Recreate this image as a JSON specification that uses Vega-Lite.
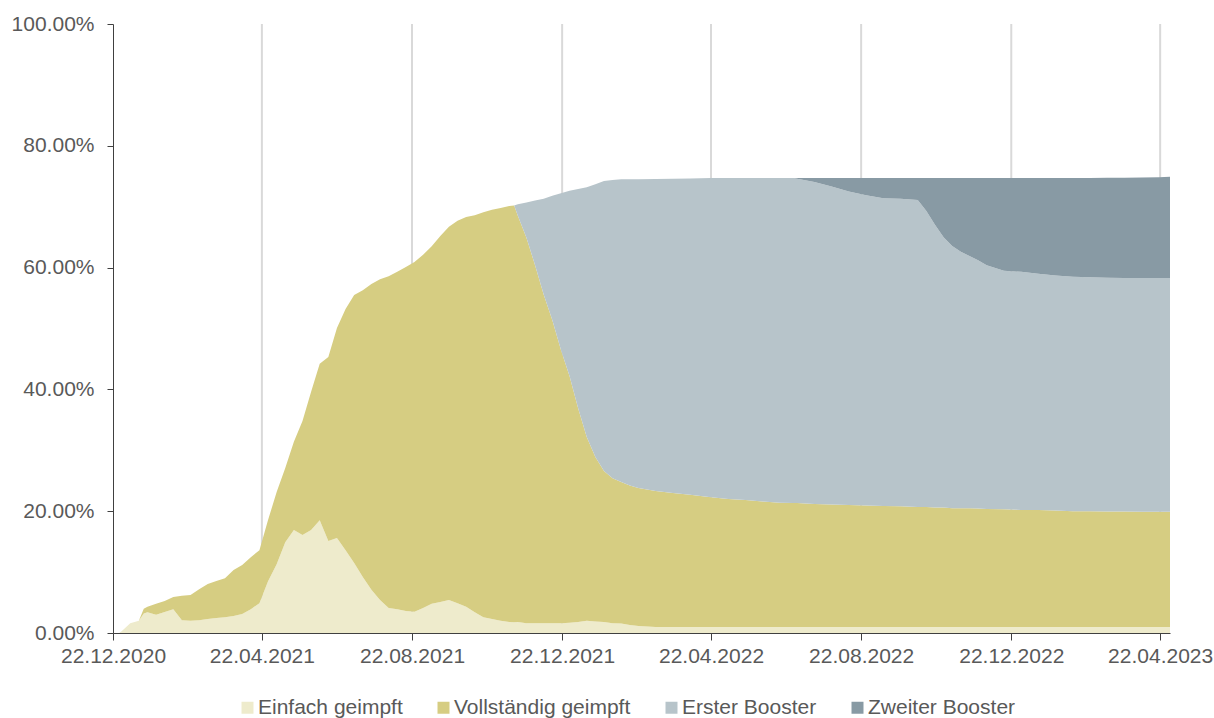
{
  "$schema": "https://vega.github.io/schema/vega-lite/v6.json",
  "width": 1057,
  "height": 609,
  "autosize": "none",
  "padding": {"left": 113, "top": 24, "right": 44, "bottom": 85},
  "background": "white",
  "config": {"font": "Liberation Sans", "view": {"stroke": null}},
  "layer": [
    {
      "data": {
        "values": [
          {"d": "2021-04-22"}, {"d": "2021-08-22"}, {"d": "2021-12-22"},
          {"d": "2022-04-22"}, {"d": "2022-08-22"}, {"d": "2022-12-22"}, {"d": "2023-04-22"}
        ],
        "format": {"parse": {"d": "date:'%Y-%m-%d'"}}
      },
      "mark": {"type": "rule", "color": "#d9d9d9", "strokeWidth": 2},
      "encoding": {"x": {"field": "d", "type": "temporal", "title": null}}
    },
    {
      "data": {
        "values": [
          {"d": "2020-12-27", "s1": 0, "s2": 0, "s3": 0, "s4": 0},
          {"d": "2020-12-29", "s1": 0.3, "s2": 0, "s3": 0, "s4": 0},
          {"d": "2021-01-05", "s1": 1.6, "s2": 0, "s3": 0, "s4": 0},
          {"d": "2021-01-12", "s1": 2.0, "s2": 0, "s3": 0, "s4": 0},
          {"d": "2021-01-16", "s1": 3.2, "s2": 0.8, "s3": 0, "s4": 0},
          {"d": "2021-01-19", "s1": 3.4, "s2": 0.9, "s3": 0, "s4": 0},
          {"d": "2021-01-26", "s1": 3.0, "s2": 1.8, "s3": 0, "s4": 0},
          {"d": "2021-02-02", "s1": 3.45, "s2": 1.8, "s3": 0, "s4": 0},
          {"d": "2021-02-09", "s1": 3.9, "s2": 2.0, "s3": 0, "s4": 0},
          {"d": "2021-02-16", "s1": 2.1, "s2": 4.0, "s3": 0, "s4": 0},
          {"d": "2021-02-23", "s1": 2.0, "s2": 4.25, "s3": 0, "s4": 0},
          {"d": "2021-03-02", "s1": 2.1, "s2": 5.1, "s3": 0, "s4": 0},
          {"d": "2021-03-09", "s1": 2.3, "s2": 5.75, "s3": 0, "s4": 0},
          {"d": "2021-03-16", "s1": 2.45, "s2": 6.1, "s3": 0, "s4": 0},
          {"d": "2021-03-23", "s1": 2.6, "s2": 6.4, "s3": 0, "s4": 0},
          {"d": "2021-03-30", "s1": 2.8, "s2": 7.55, "s3": 0, "s4": 0},
          {"d": "2021-04-06", "s1": 3.1, "s2": 8.05, "s3": 0, "s4": 0},
          {"d": "2021-04-13", "s1": 3.9, "s2": 8.55, "s3": 0, "s4": 0},
          {"d": "2021-04-20", "s1": 4.9, "s2": 8.7, "s3": 0, "s4": 0},
          {"d": "2021-04-27", "s1": 8.5, "s2": 10.05, "s3": 0, "s4": 0},
          {"d": "2021-05-04", "s1": 11.3, "s2": 11.85, "s3": 0, "s4": 0},
          {"d": "2021-05-11", "s1": 14.9, "s2": 12.2, "s3": 0, "s4": 0},
          {"d": "2021-05-18", "s1": 16.9, "s2": 14.5, "s3": 0, "s4": 0},
          {"d": "2021-05-25", "s1": 16.1, "s2": 18.7, "s3": 0, "s4": 0},
          {"d": "2021-06-01", "s1": 16.9, "s2": 22.7, "s3": 0, "s4": 0},
          {"d": "2021-06-08", "s1": 18.5, "s2": 25.7, "s3": 0, "s4": 0},
          {"d": "2021-06-15", "s1": 15.1, "s2": 30.2, "s3": 0, "s4": 0},
          {"d": "2021-06-22", "s1": 15.6, "s2": 34.5, "s3": 0, "s4": 0},
          {"d": "2021-06-29", "s1": 13.6, "s2": 39.6, "s3": 0, "s4": 0},
          {"d": "2021-07-06", "s1": 11.5, "s2": 44.0, "s3": 0, "s4": 0},
          {"d": "2021-07-13", "s1": 9.2, "s2": 47.1, "s3": 0, "s4": 0},
          {"d": "2021-07-20", "s1": 7.1, "s2": 50.2, "s3": 0, "s4": 0},
          {"d": "2021-07-27", "s1": 5.4, "s2": 52.7, "s3": 0, "s4": 0},
          {"d": "2021-08-03", "s1": 4.1, "s2": 54.5, "s3": 0, "s4": 0},
          {"d": "2021-08-10", "s1": 3.9, "s2": 55.4, "s3": 0, "s4": 0},
          {"d": "2021-08-17", "s1": 3.6, "s2": 56.5, "s3": 0, "s4": 0},
          {"d": "2021-08-24", "s1": 3.5, "s2": 57.4, "s3": 0, "s4": 0},
          {"d": "2021-08-31", "s1": 4.1, "s2": 58.0, "s3": 0, "s4": 0},
          {"d": "2021-09-07", "s1": 4.8, "s2": 58.7, "s3": 0, "s4": 0},
          {"d": "2021-09-14", "s1": 5.1, "s2": 60.1, "s3": 0, "s4": 0},
          {"d": "2021-09-21", "s1": 5.4, "s2": 61.3, "s3": 0, "s4": 0},
          {"d": "2021-09-28", "s1": 4.9, "s2": 62.8, "s3": 0, "s4": 0},
          {"d": "2021-10-05", "s1": 4.3, "s2": 64.0, "s3": 0, "s4": 0},
          {"d": "2021-10-12", "s1": 3.4, "s2": 65.2, "s3": 0, "s4": 0},
          {"d": "2021-10-19", "s1": 2.6, "s2": 66.5, "s3": 0, "s4": 0},
          {"d": "2021-10-26", "s1": 2.3, "s2": 67.2, "s3": 0, "s4": 0},
          {"d": "2021-11-02", "s1": 2.0, "s2": 67.8, "s3": 0, "s4": 0},
          {"d": "2021-11-09", "s1": 1.8, "s2": 68.3, "s3": 0, "s4": 0},
          {"d": "2021-11-13", "s1": 1.75, "s2": 68.45, "s3": 0, "s4": 0},
          {"d": "2021-11-16", "s1": 1.8, "s2": 66.7, "s3": 1.9, "s4": 0},
          {"d": "2021-11-23", "s1": 1.6, "s2": 63.3, "s3": 5.8, "s4": 0},
          {"d": "2021-11-30", "s1": 1.6, "s2": 58.8, "s3": 10.6, "s4": 0},
          {"d": "2021-12-07", "s1": 1.6, "s2": 54.0, "s3": 15.7, "s4": 0},
          {"d": "2021-12-14", "s1": 1.6, "s2": 49.8, "s3": 20.4, "s4": 0},
          {"d": "2021-12-21", "s1": 1.6, "s2": 44.9, "s3": 25.7, "s4": 0},
          {"d": "2021-12-28", "s1": 1.7, "s2": 40.5, "s3": 30.4, "s4": 0},
          {"d": "2022-01-04", "s1": 1.8, "s2": 35.1, "s3": 36.0, "s4": 0},
          {"d": "2022-01-11", "s1": 2.0, "s2": 30.2, "s3": 41.0, "s4": 0},
          {"d": "2022-01-18", "s1": 1.9, "s2": 27.0, "s3": 44.8, "s4": 0},
          {"d": "2022-01-25", "s1": 1.8, "s2": 24.8, "s3": 47.6, "s4": 0},
          {"d": "2022-02-01", "s1": 1.6, "s2": 23.8, "s3": 49.0, "s4": 0},
          {"d": "2022-02-08", "s1": 1.55, "s2": 23.25, "s3": 49.7, "s4": 0},
          {"d": "2022-02-15", "s1": 1.3, "s2": 22.9, "s3": 50.3, "s4": 0},
          {"d": "2022-02-22", "s1": 1.15, "s2": 22.65, "s3": 50.7, "s4": 0},
          {"d": "2022-03-08", "s1": 1.0, "s2": 22.3, "s3": 51.25, "s4": 0},
          {"d": "2022-03-22", "s1": 1.0, "s2": 22.0, "s3": 51.6, "s4": 0},
          {"d": "2022-04-05", "s1": 1.0, "s2": 21.7, "s3": 51.95, "s4": 0},
          {"d": "2022-04-22", "s1": 1.0, "s2": 21.3, "s3": 52.4, "s4": 0},
          {"d": "2022-05-06", "s1": 1.0, "s2": 21.0, "s3": 52.7, "s4": 0},
          {"d": "2022-05-20", "s1": 1.0, "s2": 20.85, "s3": 52.85, "s4": 0},
          {"d": "2022-06-03", "s1": 1.0, "s2": 20.6, "s3": 53.1, "s4": 0},
          {"d": "2022-06-17", "s1": 1.0, "s2": 20.4, "s3": 53.3, "s4": 0},
          {"d": "2022-06-28", "s1": 1.0, "s2": 20.35, "s3": 53.35, "s4": 0},
          {"d": "2022-07-01", "s1": 1.0, "s2": 20.35, "s3": 53.25, "s4": 0.1},
          {"d": "2022-07-15", "s1": 1.0, "s2": 20.2, "s3": 52.85, "s4": 0.67},
          {"d": "2022-07-29", "s1": 1.0, "s2": 20.1, "s3": 52.2, "s4": 1.4},
          {"d": "2022-08-12", "s1": 1.0, "s2": 20.0, "s3": 51.5, "s4": 2.2},
          {"d": "2022-08-26", "s1": 1.0, "s2": 19.95, "s3": 50.95, "s4": 2.8},
          {"d": "2022-09-09", "s1": 1.0, "s2": 19.85, "s3": 50.55, "s4": 3.3},
          {"d": "2022-09-23", "s1": 1.0, "s2": 19.8, "s3": 50.5, "s4": 3.4},
          {"d": "2022-10-07", "s1": 1.0, "s2": 19.7, "s3": 50.4, "s4": 3.6},
          {"d": "2022-10-14", "s1": 1.0, "s2": 19.7, "s3": 48.6, "s4": 5.4},
          {"d": "2022-10-21", "s1": 1.0, "s2": 19.6, "s3": 46.45, "s4": 7.65},
          {"d": "2022-10-28", "s1": 1.0, "s2": 19.6, "s3": 44.4, "s4": 9.7},
          {"d": "2022-11-04", "s1": 1.0, "s2": 19.5, "s3": 43.05, "s4": 11.15},
          {"d": "2022-11-11", "s1": 1.0, "s2": 19.5, "s3": 42.1, "s4": 12.1},
          {"d": "2022-11-18", "s1": 1.0, "s2": 19.5, "s3": 41.4, "s4": 12.8},
          {"d": "2022-11-25", "s1": 1.0, "s2": 19.45, "s3": 40.75, "s4": 13.5},
          {"d": "2022-12-02", "s1": 1.0, "s2": 19.35, "s3": 40.05, "s4": 14.3},
          {"d": "2022-12-16", "s1": 1.0, "s2": 19.3, "s3": 39.2, "s4": 15.2},
          {"d": "2022-12-30", "s1": 1.0, "s2": 19.2, "s3": 39.1, "s4": 15.4},
          {"d": "2023-01-13", "s1": 1.0, "s2": 19.2, "s3": 38.8, "s4": 15.7},
          {"d": "2023-01-27", "s1": 1.0, "s2": 19.1, "s3": 38.6, "s4": 16.0},
          {"d": "2023-02-10", "s1": 1.0, "s2": 19.0, "s3": 38.5, "s4": 16.2},
          {"d": "2023-02-24", "s1": 1.0, "s2": 19.0, "s3": 38.4, "s4": 16.3},
          {"d": "2023-03-10", "s1": 1.0, "s2": 18.95, "s3": 38.4, "s4": 16.4},
          {"d": "2023-03-24", "s1": 1.0, "s2": 18.95, "s3": 38.35, "s4": 16.45},
          {"d": "2023-04-07", "s1": 1.0, "s2": 18.9, "s3": 38.4, "s4": 16.5},
          {"d": "2023-04-21", "s1": 1.0, "s2": 18.9, "s3": 38.4, "s4": 16.55},
          {"d": "2023-04-30", "s1": 1.0, "s2": 18.9, "s3": 38.4, "s4": 16.6}
        ],
        "format": {"parse": {"d": "date:'%Y-%m-%d'"}}
      },
      "transform": [{"fold": ["s1", "s2", "s3", "s4"], "as": ["s", "v"]}],
      "mark": {"type": "area", "interpolate": "linear", "opacity": 1},
      "encoding": {
        "x": {
          "field": "d",
          "type": "temporal",
          "title": null,
          "scale": {"domain": [{"year": 2020, "month": 12, "date": 22}, {"year": 2023, "month": 4, "date": 30}]},
          "axis": {
            "values": [
              {"year": 2020, "month": 12, "date": 22},
              {"year": 2021, "month": 4, "date": 22},
              {"year": 2021, "month": 8, "date": 22},
              {"year": 2021, "month": 12, "date": 22},
              {"year": 2022, "month": 4, "date": 22},
              {"year": 2022, "month": 8, "date": 22},
              {"year": 2022, "month": 12, "date": 22},
              {"year": 2023, "month": 4, "date": 22}
            ],
            "format": "%d.%m.%Y",
            "labelFontSize": 21,
            "labelColor": "#595959",
            "labelAngle": 0,
            "labelFlush": false,
            "labelOverlap": false,
            "tickSize": 7,
            "labelPadding": 5,
            "domainColor": "#404040",
            "tickColor": "#404040",
            "grid": false,
            "zindex": 1
          }
        },
        "y": {
          "field": "v",
          "type": "quantitative",
          "stack": "zero",
          "title": null,
          "scale": {"domain": [0, 100], "nice": false},
          "axis": {
            "values": [0, 20, 40, 60, 80, 100],
            "labelExpr": "format(datum.value, '.2f') + '%'",
            "labelFontSize": 21,
            "labelColor": "#595959",
            "tickSize": 6,
            "labelPadding": 13,
            "domainColor": "#404040",
            "tickColor": "#404040",
            "grid": false,
            "zindex": 1
          }
        },
        "color": {
          "field": "s",
          "type": "nominal",
          "scale": {"domain": ["s1", "s2", "s3", "s4"], "range": ["#EEEBCC", "#D6CD82", "#B7C4CA", "#889AA4"]},
          "legend": {
            "orient": "none",
            "legendX": 124,
            "legendY": 673,
            "direction": "horizontal",
            "title": null,
            "labelFontSize": 21,
            "labelColor": "#595959",
            "labelLimit": 0,
            "symbolType": "square",
            "symbolSize": 144,
            "symbolStrokeWidth": 0,
            "symbolOpacity": 1,
            "labelOffset": 0,
            "columnPadding": 30,
            "labelExpr": "datum.label == 's1' ? 'Einfach geimpft' : datum.label == 's2' ? 'Vollständig geimpft' : datum.label == 's3' ? 'Erster Booster' : 'Zweiter Booster'"
          }
        },
        "order": {"field": "s", "sort": "ascending"}
      }
    }
  ]
}
